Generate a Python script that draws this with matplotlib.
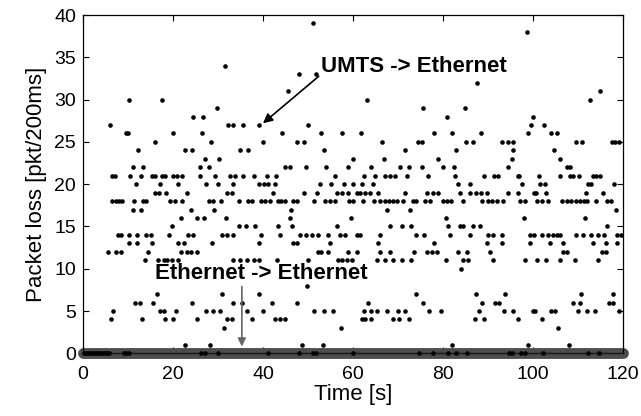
import matplotlib
matplotlib.use("Agg")
import matplotlib.pyplot as plt

plt.rcParams['font.family'] = ['Liberation Sans', 'DejaVu Sans']

# UMTS -> Ethernet: time [s] of the samples at each packet loss level
t_loss0 = [0.2, 0.6, 1.0, 1.4, 1.8, 2.2, 2.6, 3.0, 3.4, 3.8, 4.2, 4.6, 5.0, 5.4, 5.8, 9.0, 9.6, 10.2,
           26.3, 27.2, 29.9, 41.2, 48.0, 51.2, 51.8, 60.0, 74.7, 77.7, 81.1, 82.9, 85.3, 94.6, 95.3,
           97.4, 98.3, 102.3, 112.3, 114.6]
t_loss1 = [22.7, 28.2, 48.7, 53.4, 82.1, 98.8, 108.1]
t_loss3 = [31.4, 57.3, 105.6]
t_loss4 = [6.2, 13.0, 18.2, 20.1, 25.4, 31.9, 33.0, 37.5, 42.7, 43.8, 44.9, 61.9, 62.7, 64.1, 69.0,
           70.3, 72.5, 87.1, 89.2, 96.6, 101.9]
t_loss5 = [6.7, 17.1, 18.1, 20.6, 27.3, 28.8, 30.4, 36.5, 39.9, 51.4, 53.6, 55.6, 62.5, 64.1, 65.3,
           67.5, 69.9, 71.6, 77.0, 79.5, 87.9, 93.6, 95.6, 99.9, 100.4, 104.1, 104.9, 109.9, 112.1,
           113.8, 119.2]
t_loss6 = [11.6, 12.7, 15.6, 24.3, 33.4, 35.3, 41.9, 47.5, 63.4, 75.6, 88.7, 91.5, 92.4, 108.8, 110.4,
           117.0, 117.7]
t_loss7 = [16.4, 30.8, 39.2, 74.0, 87.3, 93.8, 110.6, 117.7]
t_loss8 = [49.7]
t_loss10 = [84.1]
t_loss11 = [13.8, 16.7, 17.9, 18.6, 19.7, 21.2, 33.4, 34.9, 36.4, 37.9, 39.0, 43.2, 50.1, 56.6, 57.5,
            58.6, 59.7, 65.3, 67.1, 69.0, 70.8, 72.8, 80.7, 84.5, 85.6, 91.2, 98.2, 101.0, 102.9,
            106.1, 109.3, 114.5]
t_loss12 = [5.5, 7.3, 8.4, 14.5, 21.8, 23.0, 24.1, 25.3, 52.3, 53.0, 54.5, 58.8, 60.8, 65.9, 68.2,
            73.6, 76.4, 77.5, 78.7, 83.3, 85.3, 90.4, 106.7, 107.5, 115.3, 116.2]
t_loss13 = [10.2, 12.1, 15.4, 21.0, 22.5, 28.6, 39.0, 46.7, 47.5, 54.9, 65.6, 78.0, 89.7, 93.2, 99.3,
            103.8, 106.7, 113.3, 116.2, 118.6]
t_loss14 = [7.7, 8.4, 10.2, 12.1, 13.9, 15.1, 19.0, 23.4, 24.5, 30.8, 31.9, 33.4, 39.5, 43.8, 48.2,
            49.5, 50.8, 52.3, 54.5, 57.1, 58.2, 60.8, 61.6, 66.1, 74.0, 75.8, 81.6, 86.0, 90.1, 91.2,
            93.2, 99.3, 100.3, 101.9, 103.4, 104.4, 105.3, 106.0, 109.6, 111.2, 113.0, 114.5, 115.8,
            118.6, 119.5]
t_loss15 = [19.7, 34.7, 36.2, 38.2, 43.3, 46.5, 56.4, 68.2, 71.0, 73.0, 81.2, 83.8, 84.5, 86.7, 88.2,
            116.5]
t_loss16 = [21.8, 25.3, 26.9, 31.8, 46.0, 59.6, 80.7, 97.9, 111.6]
t_loss17 = [11.0, 12.9, 24.0, 29.0, 46.2, 67.6, 72.7, 118.4]
t_loss18 = [6.5, 7.3, 8.0, 8.7, 11.4, 13.4, 14.1, 19.3, 20.4, 22.1, 27.9, 28.8, 30.6, 34.7, 36.7,
            37.5, 39.5, 40.4, 41.6, 43.4, 44.0, 44.9, 46.7, 47.5, 51.4, 53.8, 54.9, 56.0, 59.1, 59.9,
            62.3, 64.7, 66.1, 67.1, 68.1, 69.0, 69.7, 71.2, 73.4, 74.1, 76.0, 77.1, 80.1, 81.0, 81.8,
            84.5, 88.7, 89.9, 91.0, 92.1, 93.4, 97.1, 98.2, 101.0, 101.9, 103.4, 106.4, 107.5, 108.4,
            109.6, 110.4, 111.3, 111.9, 114.1, 116.4, 117.3]
t_loss19 = [16.1, 16.9, 18.4, 23.0, 31.9, 33.0, 42.3, 49.0, 51.9, 56.4, 57.5, 59.0, 60.8, 61.6, 62.7,
            63.8, 65.6, 71.6, 76.4, 77.7, 79.0, 83.8, 86.0, 87.3, 88.4, 89.7, 94.4, 96.6, 100.3,
            100.7, 102.9, 111.8, 115.6]
t_loss20 = [11.7, 17.1, 21.2, 27.3, 30.1, 33.4, 39.2, 40.2, 41.2, 42.7, 52.7, 55.2, 57.9, 60.1, 62.1,
            64.4, 83.3, 86.0, 97.5, 101.6, 102.7, 112.3, 113.0, 117.9]
t_loss21 = [6.4, 7.1, 10.4, 12.9, 15.3, 16.0, 17.5, 18.2, 20.1, 20.8, 22.1, 26.1, 29.3, 32.7, 33.8,
            35.6, 37.9, 40.8, 42.9, 55.9, 62.5, 64.9, 67.1, 68.2, 69.3, 71.9, 76.7, 82.7, 89.2, 91.4,
            92.3, 96.6, 96.9, 101.4, 105.9, 108.2, 109.0, 110.3, 113.3, 114.1, 115.0]
t_loss22 = [11.2, 13.4, 26.0, 27.9, 44.9, 46.0, 49.5, 54.1, 59.0, 64.1, 70.4, 72.5, 75.3, 80.1, 82.5,
            94.4, 107.6, 108.2]
t_loss23 = [27.1, 30.3, 60.1, 66.9, 79.0, 95.4, 106.0]
t_loss24 = [12.3, 22.7, 24.3, 34.9, 36.7, 53.6, 71.6, 83.0, 95.6, 104.7]
t_loss25 = [15.9, 28.4, 39.9, 47.5, 49.0, 66.4, 74.5, 75.3, 85.2, 86.7, 93.2, 94.4, 95.6, 109.6,
            111.0, 117.5, 118.2, 119.2]
t_loss26 = [9.5, 9.9, 19.9, 26.4, 44.3, 53.0, 57.5, 61.8, 77.9, 82.1, 88.4, 99.0, 103.9, 105.3]
t_loss27 = [6.0, 32.3, 33.3, 35.5, 39.0, 50.1, 99.6, 102.4]
t_loss28 = [24.5, 26.7, 81.0, 100.1]
t_loss29 = [29.7, 75.5, 84.9]
t_loss30 = [10.2, 17.6, 63.2, 112.7]
t_loss31 = [45.5, 114.9]
t_loss32 = [87.5]
t_loss33 = [48.0, 51.7]
t_loss34 = [31.6]
t_loss38 = [98.6]
t_loss39 = [51.0]

levels = [(0, t_loss0), (1, t_loss1), (3, t_loss3), (4, t_loss4), (5, t_loss5), (6, t_loss6),
          (7, t_loss7), (8, t_loss8), (10, t_loss10), (11, t_loss11), (12, t_loss12),
          (13, t_loss13), (14, t_loss14), (15, t_loss15), (16, t_loss16), (17, t_loss17),
          (18, t_loss18), (19, t_loss19), (20, t_loss20), (21, t_loss21), (22, t_loss22),
          (23, t_loss23), (24, t_loss24), (25, t_loss25), (26, t_loss26), (27, t_loss27),
          (28, t_loss28), (29, t_loss29), (30, t_loss30), (31, t_loss31), (32, t_loss32),
          (33, t_loss33), (34, t_loss34), (38, t_loss38), (39, t_loss39)]

# Ethernet -> Ethernet: no loss over the whole run
eth_time = [0, 120]
eth_loss = [0, 0]

umts_x = []
umts_y = []
for lvl, times in levels:
    umts_x += times
    umts_y += [lvl] * len(times)

fig = plt.figure(figsize=(6.41, 4.16), dpi=100)
ax = fig.add_axes([0.1295, 0.1507, 0.8424, 0.8132])

ax.plot(eth_time, eth_loss, color='#4d4d4d', lw=7.8, solid_capstyle='round', clip_on=False, zorder=2)
ax.plot(eth_time, eth_loss, color='#1a1a1a', lw=0.8, clip_on=False, zorder=3)
ax.plot(umts_x, umts_y, 'o', color='black', ms=3.3, mec='none', clip_on=False, zorder=4)

ax.set_xlim(0, 120)
ax.set_ylim(0, 40)
ax.set_xticks([0, 20, 40, 60, 80, 100, 120])
ax.set_yticks([0, 5, 10, 15, 20, 25, 30, 35, 40])
ax.tick_params(direction='in', top=True, right=True, length=4, width=0.8, labelsize=14)
ax.tick_params(axis='x', pad=9)
ax.tick_params(axis='y', pad=5)
for s in ax.spines.values():
    s.set_linewidth(0.9)
ax.set_xlabel('Time [s]', fontsize=16, labelpad=1)
ax.set_ylabel('Packet loss [pkt/200ms]', fontsize=16, labelpad=5)

ax.annotate('UMTS -> Ethernet', xy=(40.0, 27.2), xytext=(53.0, 33.9),
            fontsize=16, fontweight='bold', va='center', ha='left',
            arrowprops=dict(arrowstyle='-|>', color='black', lw=1.2, mutation_scale=14,
                            shrinkA=0, shrinkB=0, relpos=(0, 0.15)), zorder=6)
ax.annotate('Ethernet -> Ethernet', xy=(35.3, 0.8), xytext=(16.0, 9.4),
            fontsize=16, fontweight='bold', va='center', ha='left', zorder=6)
ax.annotate('', xy=(35.3, 0.8), xytext=(35.3, 7.9),
            arrowprops=dict(arrowstyle='-|>', color='#666666', lw=1.2, mutation_scale=12,
                            shrinkA=0, shrinkB=0), zorder=6)

fig.savefig('out.png', dpi=100)
